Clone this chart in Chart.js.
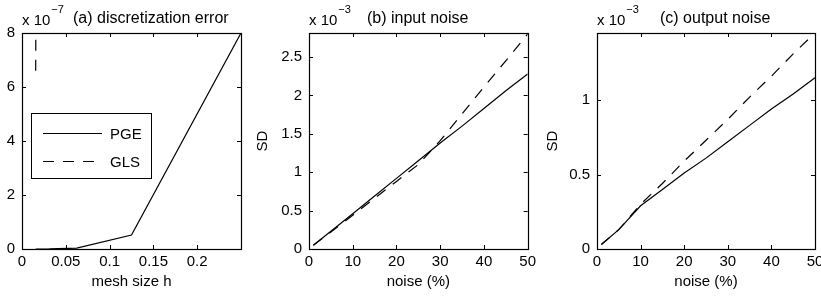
<!DOCTYPE html>
<html>
<head>
<meta charset="utf-8">
<script src="https://cdn.jsdelivr.net/npm/chart.js@4"></script>
<style>
  body { margin: 0; background: #fff; width: 821px; height: 299px; overflow: hidden; position: relative; }
  canvas { position: absolute; top: 0; }
</style>
</head>
<body>
<canvas id="chartA" width="260" height="299" style="left:0"></canvas>
<canvas id="chartB" width="290" height="299" style="left:250px"></canvas>
<canvas id="chartC" width="300" height="299" style="left:540px"></canvas>
<script>
// (a) discretization error, values in units of 1e-7
var meshSizes = [0.015625, 0.03125, 0.0625, 0.125, 0.25];
var pgeDisc = [0.0003, 0.002, 0.03, 0.52, 8.0];
var glsDisc = [6.6, 150, 600, 2400, 9600];

// (b) input noise and (c) output noise, values in units of 1e-3
var noiseLevels = [1, 5, 10, 15, 20, 25, 30, 35, 40, 45, 50];
var pgeInput = [0.05, 0.23, 0.46, 0.69, 0.92, 1.15, 1.38, 1.6, 1.83, 2.06, 2.28];
var glsInput = [0.05, 0.22, 0.44, 0.66, 0.88, 1.1, 1.41, 1.76, 2.11, 2.45, 2.8];
var pgeOutput = [0.03, 0.13, 0.29, 0.40, 0.51, 0.61, 0.72, 0.83, 0.94, 1.04, 1.15];
var glsOutput = [0.03, 0.13, 0.30, 0.44, 0.59, 0.73, 0.87, 1.02, 1.16, 1.31, 1.45];

// tick labels
var meshTicks = [0, 0.05, 0.1, 0.15, 0.2];
var discTicks = [0, 2, 4, 6, 8];
var noiseTicks = [0, 10, 20, 30, 40, 50];
var inputTicks = [0, 0.5, 1, 1.5, 2, 2.5];
var outputTicks = [0, 0.5, 1];

var FONT = '"Liberation Sans", Arial, sans-serif';
Chart.defaults.font.family = FONT;
Chart.defaults.color = '#000';

function pts(xs, ys) {
  return xs.map(function(x, i) { return {x: x, y: ys[i]}; });
}

// box, inward ticks, exponent, title and legend like a matlab axes
var matlabFrame = {
  id: 'matlabFrame',
  afterDraw: function(chart, args, opts) {
    var ctx = chart.ctx, a = chart.chartArea;
    var sx = chart.scales.x, sy = chart.scales.y;
    ctx.save();
    ctx.strokeStyle = '#000';
    ctx.lineWidth = 1.2;
    ctx.strokeRect(Math.round(a.left) + 0.5, Math.round(a.top) + 0.5,
      Math.round(a.right - a.left), Math.round(a.bottom - a.top));
    ctx.lineWidth = 1;
    ctx.beginPath();
    sx.ticks.forEach(function(t) {
      var p = Math.round(sx.getPixelForValue(t.value)) + 0.5;
      ctx.moveTo(p, a.bottom); ctx.lineTo(p, a.bottom - 4);
      ctx.moveTo(p, a.top); ctx.lineTo(p, a.top + 4);
    });
    sy.ticks.forEach(function(t) {
      var p = Math.round(sy.getPixelForValue(t.value)) + 0.5;
      ctx.moveTo(a.left, p); ctx.lineTo(a.left + 4, p);
      ctx.moveTo(a.right, p); ctx.lineTo(a.right - 4, p);
    });
    ctx.stroke();

    ctx.fillStyle = '#000';
    ctx.textBaseline = 'alphabetic';
    ctx.font = '15px ' + FONT;
    ctx.fillText('x 10', a.left, 25);
    var w = ctx.measureText('x 10').width;
    ctx.font = '11px ' + FONT;
    ctx.fillText('\u2212' + opts.exponent, a.left + w + 1, 13);
    ctx.font = '16px ' + FONT;
    ctx.fillText(opts.title, a.left + opts.titleOffset, 23);

    if (opts.legend) {
      var lx = a.left + 9, ly = a.top + 80;
      ctx.fillStyle = '#fff';
      ctx.fillRect(lx, ly, 120, 65);
      ctx.strokeRect(lx + 0.5, ly + 0.5, 120, 65);
      chart.data.datasets.forEach(function(ds, i) {
        var yy = ly + 20 + i * 28 + 0.5;
        ctx.setLineDash(ds.borderDash || []);
        ctx.lineWidth = ds.borderWidth;
        ctx.beginPath();
        ctx.moveTo(lx + 12, yy); ctx.lineTo(lx + 71, yy);
        ctx.stroke();
        ctx.setLineDash([]);
        ctx.fillStyle = '#000';
        ctx.font = '15px ' + FONT;
        ctx.fillText(ds.label, lx + 79, yy + 5.5);
      });
    }
    ctx.restore();
  }
};

function makePanel(id, cfg) {
  return new Chart(document.getElementById(id), {
    type: 'line',
    data: {
      datasets: [
        {label: 'PGE', data: pts(cfg.xs, cfg.pge), borderColor: '#000', borderWidth: 1.2,
         pointRadius: 0, tension: 0},
        {label: 'GLS', data: pts(cfg.xs, cfg.gls), borderColor: '#000', borderWidth: 1.2,
         borderDash: [11, 9], pointRadius: 0, tension: 0}
      ]
    },
    options: {
      responsive: false,
      animation: false,
      layout: {padding: {top: 33, right: cfg.padRight, left: 0, bottom: 0}},
      plugins: {
        legend: {display: false},
        tooltip: {enabled: false},
        matlabFrame: {exponent: cfg.exponent, title: cfg.title, titleOffset: cfg.titleOffset,
                      legend: cfg.legend}
      },
      scales: {
        x: {
          type: 'linear', min: 0, max: cfg.xMax,
          grid: {display: false, drawTicks: false}, border: {display: false},
          ticks: {padding: 4, font: {size: 15}, maxRotation: 0,
                  callback: function(v) { return String(+v.toFixed(4)); }},
          afterBuildTicks: function(s) { s.ticks = cfg.xTicks.map(function(v) { return {value: v}; }); },
          afterFit: function(s) { s.height = 50; },
          title: {display: true, text: cfg.xLabel, font: {size: 15}, padding: {top: 0, bottom: 8}}
        },
        y: {
          type: 'linear', min: 0, max: cfg.yMax,
          grid: {display: false, drawTicks: false}, border: {display: false},
          ticks: {padding: 7, font: {size: 15},
                  callback: function(v) { return String(+v.toFixed(4)); }},
          afterBuildTicks: function(s) { s.ticks = cfg.yTicks.map(function(v) { return {value: v}; }); },
          afterFit: function(s) { s.width = cfg.yWidth; },
          title: {display: !!cfg.yLabel, text: cfg.yLabel || '', font: {size: 15}, padding: {top: 4, bottom: 0}}
        }
      }
    },
    plugins: [matlabFrame]
  });
}

makePanel('chartA', {
  xs: meshSizes, pge: pgeDisc, gls: glsDisc, xMax: 0.25, yMax: 8,
  xTicks: meshTicks, yTicks: discTicks, xLabel: 'mesh size h',
  yWidth: 22, padRight: 19, exponent: '7', title: '(a) discretization error', titleOffset: 51,
  legend: true
});

makePanel('chartB', {
  xs: noiseLevels, pge: pgeInput, gls: glsInput, xMax: 50, yMax: 2.8125,
  xTicks: noiseTicks, yTicks: inputTicks, xLabel: 'noise (%)', yLabel: 'SD',
  yWidth: 59, padRight: 12, exponent: '3', title: '(b) input noise', titleOffset: 58
});

makePanel('chartC', {
  xs: noiseLevels, pge: pgeOutput, gls: glsOutput, xMax: 50, yMax: 1.45,
  xTicks: noiseTicks, yTicks: outputTicks, xLabel: 'noise (%)', yLabel: 'SD',
  yWidth: 57, padRight: 25, exponent: '3', title: '(c) output noise', titleOffset: 63
});
</script>
</body>
</html>
